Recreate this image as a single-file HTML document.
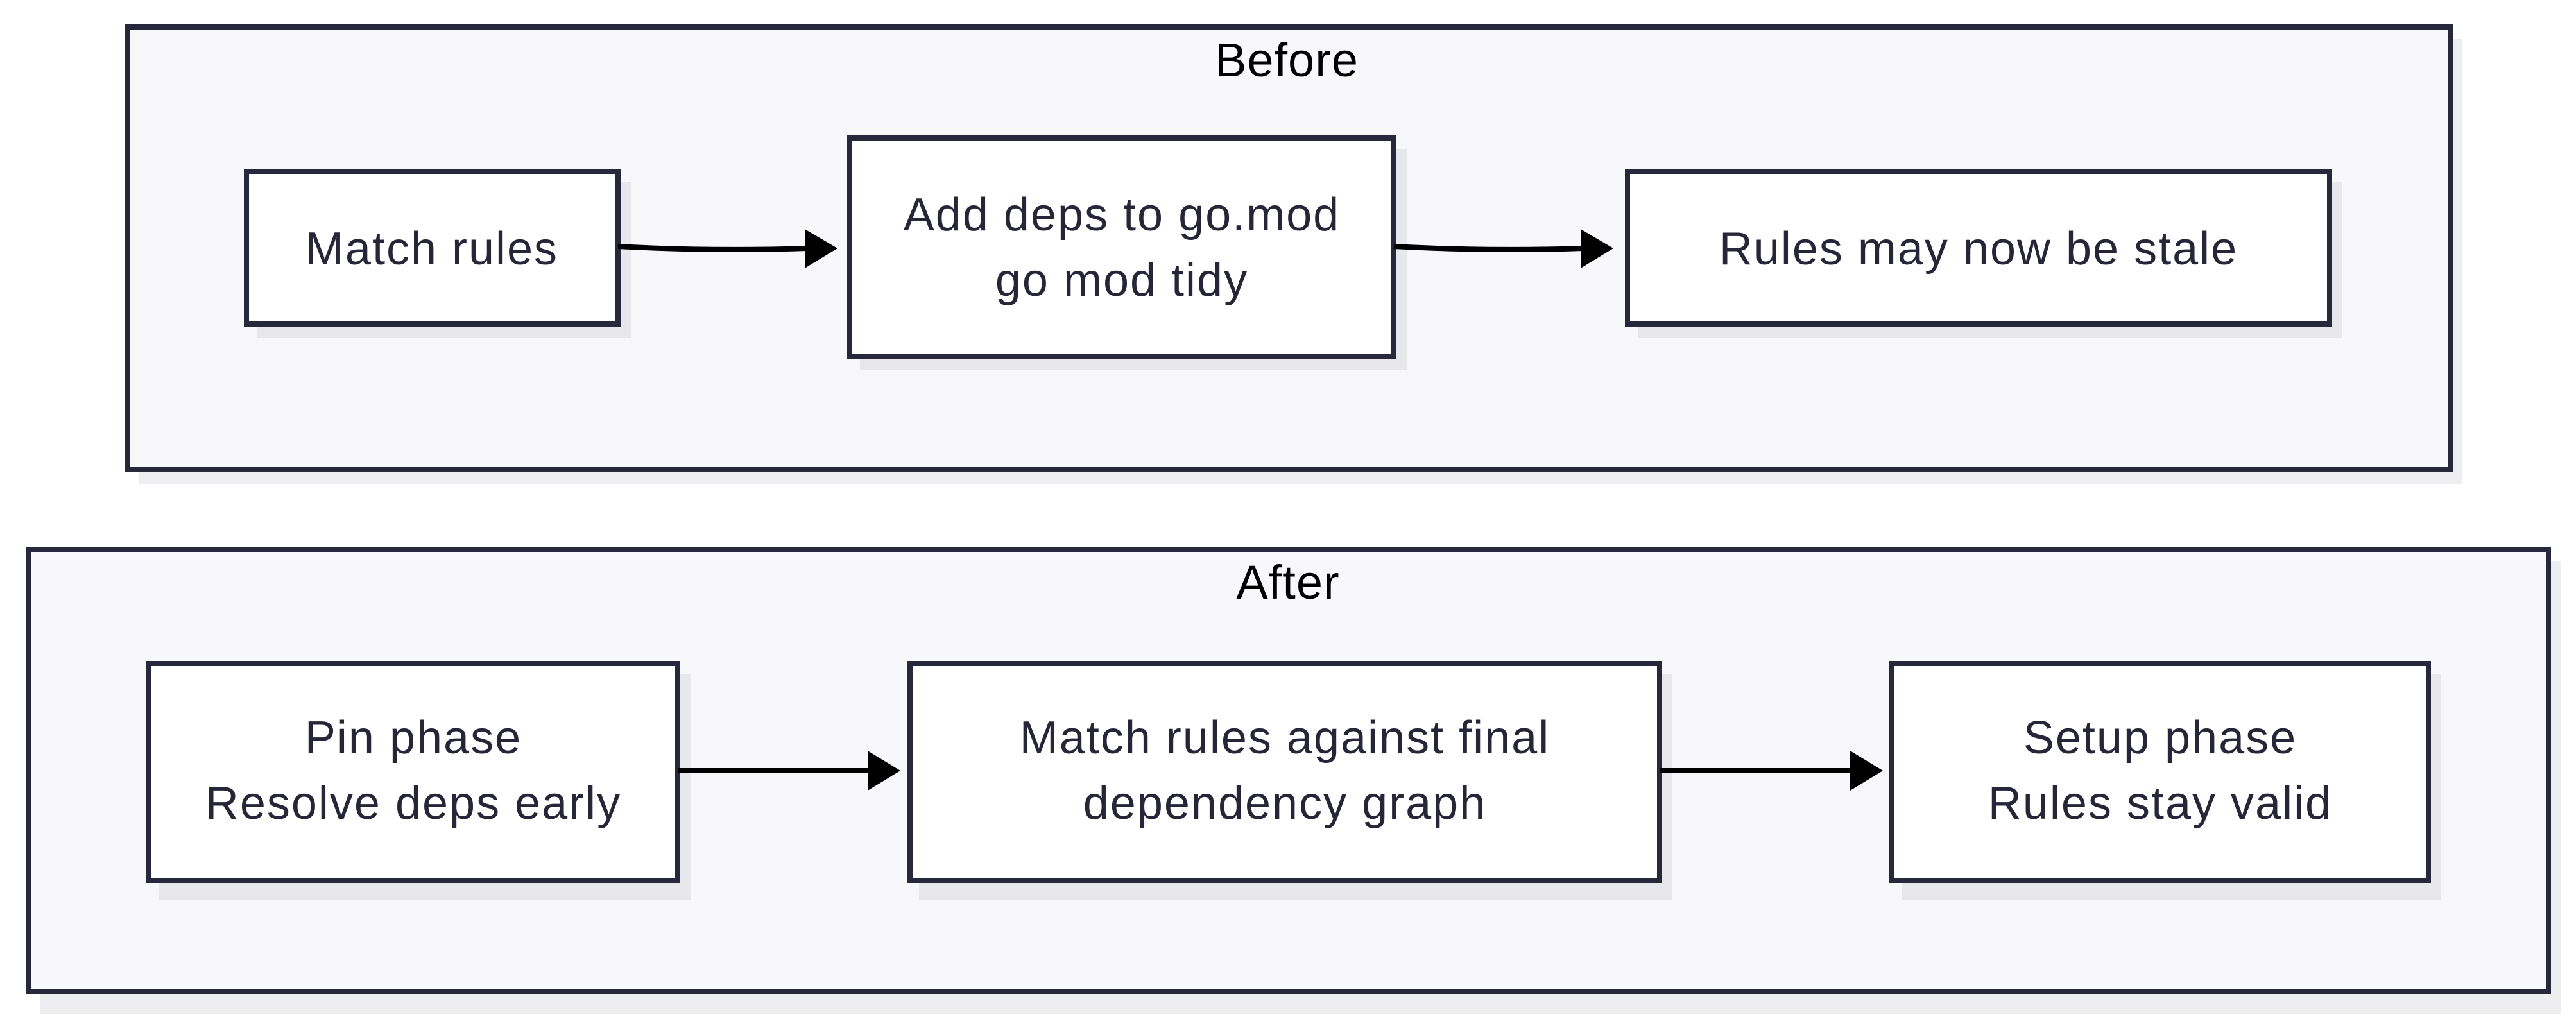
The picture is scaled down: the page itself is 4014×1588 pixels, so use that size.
<!DOCTYPE html>
<html><head><meta charset="utf-8"><style>
html,body{margin:0;padding:0;background:#fff;}
svg{display:block;}
text{font-family:"Liberation Sans",sans-serif;font-size:72px;letter-spacing:2px;fill:#262638;text-anchor:middle;}
.t{fill:#000;font-size:74px;letter-spacing:1px;}
</style></head><body>
<svg width="4014" height="1588" viewBox="0 0 4014 1588">
<rect x="0" y="0" width="4014" height="1588" fill="#fff"/>
<rect x="216" y="60" width="3620" height="694" fill="#eeeef1"/>
<rect x="198" y="42" width="3620" height="690" fill="#f8f8fa" stroke="#28283c" stroke-width="8"/>
<text class="t" x="2005" y="119">Before</text>
<rect x="400" y="283" width="584" height="244" fill="#e8e8ec"/>
<rect x="384" y="267" width="579" height="238" fill="#fff" stroke="#28283c" stroke-width="8"/>
<text x="673" y="412">Match rules</text>
<rect x="1340" y="232" width="853" height="345" fill="#e8e8ec"/>
<rect x="1324" y="215" width="848" height="340" fill="#fff" stroke="#28283c" stroke-width="8"/>
<text x="1748" y="359">Add deps to go.mod</text>
<text x="1748" y="461">go mod tidy</text>
<rect x="2552" y="283" width="1097" height="244" fill="#e8e8ec"/>
<rect x="2536" y="267" width="1094" height="238" fill="#fff" stroke="#28283c" stroke-width="8"/>
<text x="3083" y="412">Rules may now be stale</text>
<path d="M963 384 Q1110 392 1258 387" fill="none" stroke="#000" stroke-width="8"/>
<polygon points="1254,357 1305,387 1254,418" fill="#000"/>
<path d="M2172 384 Q2320 392 2468 387" fill="none" stroke="#000" stroke-width="8"/>
<polygon points="2463,357 2514,387 2463,418" fill="#000"/>
<rect x="62" y="874" width="3928" height="706" fill="#eeeef1"/>
<rect x="44" y="857" width="3927" height="688" fill="#f8f8fa" stroke="#28283c" stroke-width="8"/>
<text class="t" x="2007" y="933">After</text>
<rect x="247" y="1050" width="830" height="352" fill="#e8e8ec"/>
<rect x="232" y="1034" width="824" height="338" fill="#fff" stroke="#28283c" stroke-width="8"/>
<text x="644" y="1174">Pin phase</text>
<text x="644" y="1276">Resolve deps early</text>
<rect x="1432" y="1050" width="1173" height="352" fill="#e8e8ec"/>
<rect x="1418" y="1034" width="1168" height="338" fill="#fff" stroke="#28283c" stroke-width="8"/>
<text x="2002" y="1174">Match rules against final</text>
<text x="2002" y="1276">dependency graph</text>
<rect x="2963" y="1050" width="840" height="352" fill="#e8e8ec"/>
<rect x="2948" y="1034" width="836" height="338" fill="#fff" stroke="#28283c" stroke-width="8"/>
<text x="3366" y="1174">Setup phase</text>
<text x="3366" y="1276">Rules stay valid</text>
<line x1="1056" y1="1201" x2="1356" y2="1201" stroke="#000" stroke-width="8"/>
<polygon points="1352,1170 1403,1201 1352,1232" fill="#000"/>
<line x1="2586" y1="1201" x2="2886" y2="1201" stroke="#000" stroke-width="8"/>
<polygon points="2883,1170 2934,1201 2883,1232" fill="#000"/>
</svg>
</body></html>
